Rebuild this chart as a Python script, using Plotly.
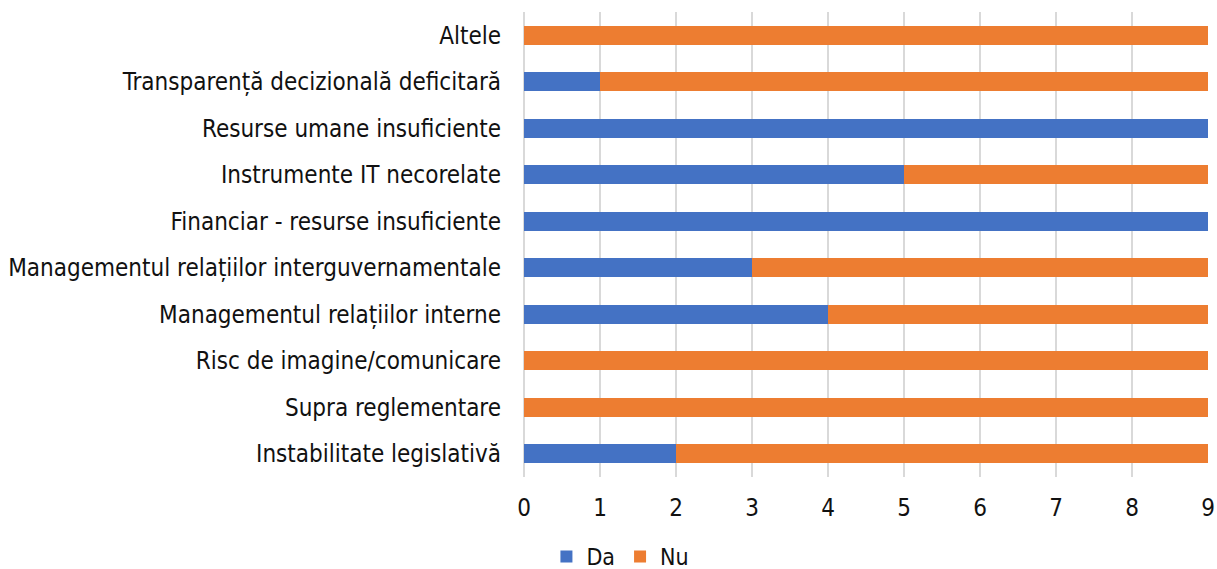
import plotly.graph_objects as go

categories = [
    "Instabilitate legislativă",
    "Supra reglementare",
    "Risc de imagine/comunicare",
    "Managementul relațiilor interne",
    "Managementul relațiilor interguvernamentale",
    "Financiar - resurse insuficiente",
    "Instrumente IT necorelate",
    "Resurse umane insuficiente",
    "Transparență decizională deficitară",
    "Altele",
]
da_values = [2, 0, 0, 4, 3, 9, 5, 9, 1, 0]
nu_values = [7, 9, 9, 5, 6, 0, 4, 0, 8, 9]
x_ticks = list(range(0, 10))

FONT = "DejaVu Sans Condensed, DejaVu Sans, sans-serif"

fig = go.Figure()
fig.add_trace(go.Bar(y=categories, x=da_values, name="Da", orientation="h",
                     marker=dict(color="#4472C4", line=dict(width=0))))
fig.add_trace(go.Bar(y=categories, x=nu_values, name="Nu", orientation="h",
                     marker=dict(color="#ED7D31", line=dict(width=0))))

fig.update_layout(
    barmode="stack",
    bargap=0.59,
    width=1217, height=569,
    margin=dict(l=524, r=9, t=12, b=92),
    paper_bgcolor="white", plot_bgcolor="white",
    font=dict(family=FONT, size=24, color="#111111"),
    showlegend=True,
    legend=dict(orientation="h", xref="container", yref="container",
                x=0.449, y=0.022, xanchor="left", yanchor="middle",
                font=dict(size=23), itemwidth=30, tracegroupgap=0,
                traceorder="normal"),
    xaxis=dict(range=[0, 9], tickvals=x_ticks, showgrid=True,
               gridcolor="#D9D9D9", gridwidth=1.5, zeroline=True,
               zerolinecolor="#D9D9D9", zerolinewidth=1.5,
               ticks="", ticklabelstandoff=14, automargin=False,
               fixedrange=True),
    yaxis=dict(categoryorder="array", categoryarray=categories,
               showgrid=False, ticks="", ticklabelstandoff=22,
               automargin=False),
)

fig.write_html("out.html")
